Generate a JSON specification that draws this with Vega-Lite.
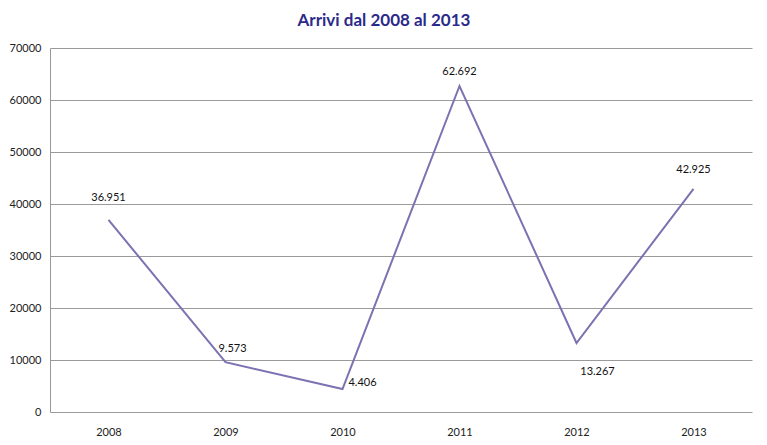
{
  "$schema": "https://vega.github.io/schema/vega-lite/v6.json",
  "autosize": "none",
  "width": 702,
  "height": 364,
  "padding": {"left": 50, "top": 48, "right": 15, "bottom": 33},
  "background": "white",
  "config": {
    "view": {"stroke": null},
    "font": "Lato",
    "locale": {"number": {"decimal": ",", "thousands": ".", "grouping": [3], "currency": ["€", ""]}}
  },
  "title": {
    "text": "Arrivi dal 2008 al 2013",
    "fontSize": 17,
    "font": "Lato",
    "fontWeight": "bold",
    "color": "#2b2a8a",
    "anchor": "middle",
    "dx": -17,
    "offset": 12
  },
  "data": {
    "values": [
      {"anno": "2008", "arrivi": 36951},
      {"anno": "2009", "arrivi": 9573},
      {"anno": "2010", "arrivi": 4406},
      {"anno": "2011", "arrivi": 62692},
      {"anno": "2012", "arrivi": 13267},
      {"anno": "2013", "arrivi": 42925}
    ]
  },
  "encoding": {
    "x": {
      "field": "anno", "type": "ordinal",
      "scale": {"type": "point", "padding": 0.5},
      "axis": {"title": null, "labelAngle": 0, "ticks": false, "domain": false, "labelPadding": 14, "labelFontSize": 11, "labelColor": "#222", "grid": false}
    },
    "y": {
      "field": "arrivi", "type": "quantitative",
      "scale": {"domain": [0, 70000], "nice": false},
      "axis": {"title": null, "values": [0, 10000, 20000, 30000, 40000, 50000, 60000, 70000], "format": "d", "ticks": false, "labelPadding": 9, "labelFontSize": 11, "labelColor": "#222", "domainColor": "#999", "gridColor": "#9a9a9a", "gridWidth": 1}
    }
  },
  "layer": [
    {"mark": {"type": "line", "color": "#7b72b2", "strokeWidth": 2}},
    {
      "transform": [{"filter": "datum.anno == '2008'"}],
      "mark": {"type": "text", "dy": -22, "fontSize": 11, "color": "#111"},
      "encoding": {"text": {"field": "arrivi", "type": "quantitative", "format": ",d"}}
    },
    {
      "transform": [{"filter": "datum.anno == '2011'"}],
      "mark": {"type": "text", "dy": -14, "fontSize": 11, "color": "#111"},
      "encoding": {"text": {"field": "arrivi", "type": "quantitative", "format": ",d"}}
    },
    {
      "transform": [{"filter": "datum.anno == '2013'"}],
      "mark": {"type": "text", "dy": -19, "fontSize": 11, "color": "#111"},
      "encoding": {"text": {"field": "arrivi", "type": "quantitative", "format": ",d"}}
    },
    {
      "transform": [{"filter": "datum.anno == '2009'"}],
      "mark": {"type": "text", "dx": 7, "dy": -13, "fontSize": 11, "color": "#111"},
      "encoding": {"text": {"field": "arrivi", "type": "quantitative", "format": ",d"}}
    },
    {
      "transform": [{"filter": "datum.anno == '2010'"}],
      "mark": {"type": "text", "dx": 20, "dy": -6, "fontSize": 11, "color": "#111"},
      "encoding": {"text": {"field": "arrivi", "type": "quantitative", "format": ",d"}}
    },
    {
      "transform": [{"filter": "datum.anno == '2012'"}],
      "mark": {"type": "text", "dx": 21, "dy": 29, "fontSize": 11, "color": "#111"},
      "encoding": {"text": {"field": "arrivi", "type": "quantitative", "format": ",d"}}
    }
  ]
}
